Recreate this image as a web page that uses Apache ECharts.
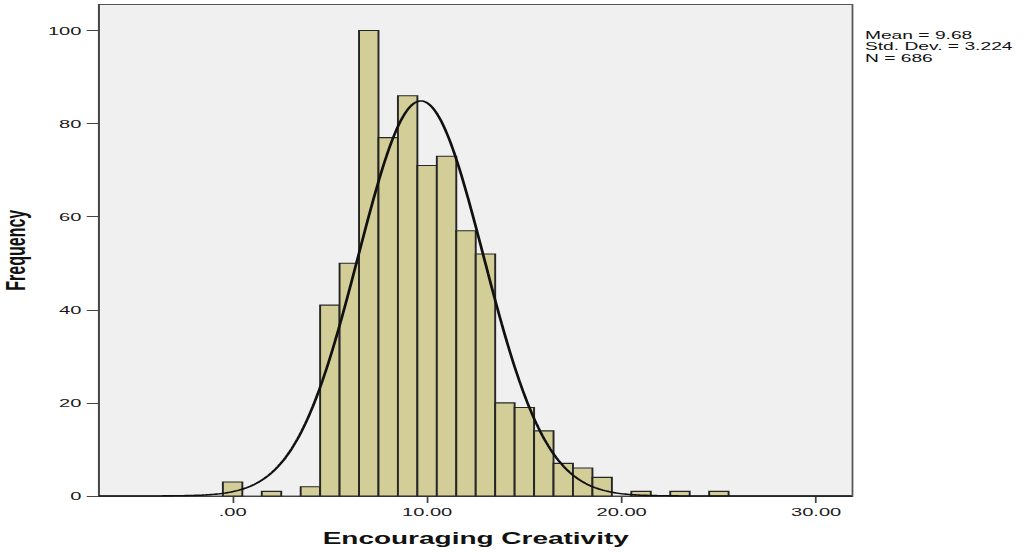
<!DOCTYPE html>
<html>
<head>
<meta charset="utf-8">
<script src="https://cdn.jsdelivr.net/npm/echarts@6/dist/echarts.min.js"></script>
<style>
  html, body { margin: 0; padding: 0; background: #ffffff; overflow: hidden; }
  #wrap { width: 1030px; height: 555px; overflow: hidden; }
  #c { width: 589px; height: 555px; transform: scaleX(1.7487); transform-origin: 0 0; }
</style>
</head>
<body>
<div id="wrap"><div id="c"></div></div>
<script>
// ---- data ----
const binCenters = [0, 2, 4, 5, 6, 7, 8, 9, 10, 11, 12, 13, 14, 15, 16, 17, 18, 19, 21, 23, 25];
const binCounts  = [3, 1, 2, 41, 50, 100, 77, 86, 71, 73, 57, 52, 20, 19, 14, 7, 6, 4, 1, 1, 1];
const BIN_WIDTH = 1;
const xTicks = [0, 10, 20, 30];
const yTicks = [0, 20, 40, 60, 80, 100];
const MEAN = 9.68;
const SD = 3.224;
const N = 686;
const statLines = ['Mean = 9.68', 'Std. Dev. = 3.224', 'N = 686'];
const xTitle = 'Encouraging Creativity';
const yTitle = 'Frequency';

const X_MIN = -6.87, X_MAX = 31.87, Y_MAX = 105.6;

// fitted normal curve (from the stated mean, std. dev. and N)
const curve = [];
for (let x = X_MIN; x <= X_MAX + 1e-9; x += 0.1) {
  const z = (x - MEAN) / SD;
  curve.push([x, N * BIN_WIDTH / (SD * Math.sqrt(2 * Math.PI)) * Math.exp(-0.5 * z * z)]);
}

const font = 'Liberation Sans, Arial, sans-serif';
const chart = echarts.init(document.getElementById('c'), null, { renderer: 'svg' });
chart.setOption({
  animation: false,
  backgroundColor: '#ffffff',
  grid: {
    left: 56.6, right: 101.5, top: 4.5, bottom: 59,
    containLabel: false, outerBoundsMode: 'none',
    show: true, backgroundColor: '#f0f0f0', borderColor: '#555555', borderWidth: 1
  },
  xAxis: {
    type: 'value', min: X_MIN, max: X_MAX,
    name: xTitle, nameLocation: 'middle', nameGap: 34,
    nameTextStyle: { fontFamily: font, fontWeight: 'bold', fontSize: 16, color: '#111' },
    axisLine: { show: true, onZero: false, lineStyle: { color: '#444', width: 1 } },
    axisTick: { show: true, length: 7, customValues: xTicks, lineStyle: { color: '#444' } },
    axisLabel: {
      customValues: xTicks, margin: 10, fontFamily: font, fontSize: 11.5, color: '#1a1a1a',
      formatter: v => (v === 0 ? '.00' : v.toFixed(2))
    },
    splitLine: { show: false }
  },
  yAxis: {
    type: 'value', min: 0, max: Y_MAX,
    name: yTitle, nameLocation: 'middle', nameGap: 35, nameRotate: 90,
    nameTextStyle: { fontFamily: font, fontWeight: 'bold', fontSize: 16, color: '#111' },
    axisLine: { show: true, onZero: false, lineStyle: { color: '#444', width: 1 } },
    axisTick: { show: true, length: 7, customValues: yTicks, lineStyle: { color: '#444' } },
    axisLabel: { customValues: yTicks, margin: 10, fontFamily: font, fontSize: 11.5, color: '#1a1a1a' },
    splitLine: { show: false }
  },
  graphic: [{
    type: 'text', left: 494.6, top: 29,
    style: { text: statLines.join('\n'), font: '11px ' + font, fill: '#111', lineHeight: 11.5 }
  }],
  series: [
    {
      type: 'custom',
      data: binCenters.map((c, i) => [c, binCounts[i]]),
      encode: { x: 0, y: 1 },
      renderItem: function (params, api) {
        const c = api.value(0), v = api.value(1);
        const p0 = api.coord([c - BIN_WIDTH / 2, v]);
        const p1 = api.coord([c + BIN_WIDTH / 2, 0]);
        return {
          type: 'rect',
          shape: { x: p0[0], y: p0[1], width: p1[0] - p0[0], height: p1[1] - p0[1] },
          style: { fill: '#d3ce97', stroke: '#262626', lineWidth: 1.1 }
        };
      },
      z: 2
    },
    {
      type: 'line', data: curve, showSymbol: false, smooth: false,
      lineStyle: { color: '#111', width: 1.6 }, z: 3
    }
  ]
});
</script>
</body>
</html>
